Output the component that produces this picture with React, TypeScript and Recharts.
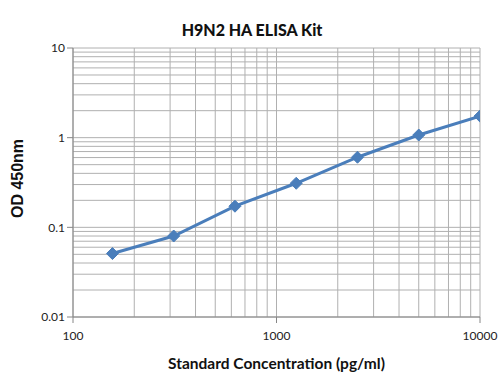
import { CartesianGrid, LineChart, Line, ReferenceLine, XAxis, YAxis, Label } from "recharts"

const concentration = [156.25, 312.5, 625, 1250, 2500, 5000, 10000]
const od450 = [0.051, 0.08, 0.172, 0.31, 0.605, 1.07, 1.74]

const xTicks = [100, 1000, 10000]
const yTicks = [0.01, 0.1, 1, 10]
const xMinor = [200, 300, 400, 500, 600, 700, 800, 900, 2000, 3000, 4000, 5000, 6000, 7000, 8000, 9000]
const yMinor = [0.02, 0.03, 0.04, 0.05, 0.06, 0.07, 0.08, 0.09, 0.2, 0.3, 0.4, 0.5, 0.6, 0.7, 0.8, 0.9, 2, 3, 4, 5, 6, 7, 8, 9]

const data = concentration.map((c, i) => ({ conc: c, od: od450[i] }))

const gridColor = "#b0b0b0"
const lineColor = "#4a7ebb"

const Diamond = (props: any) => {
  const { cx, cy } = props
  if (cx == null || cy == null) return null
  const r = 6
  return (
    <polygon
      points={`${cx},${cy - r} ${cx + r},${cy} ${cx},${cy + r} ${cx - r},${cy}`}
      fill={lineColor}
      stroke={lineColor}
      strokeWidth={1}
    />
  )
}

export default function App() {
  return (
    <div style={{ position: "absolute", left: 0, top: 0, width: 500, height: 373, background: "#fff" }}>
      <LineChart width={500} height={373} data={data} margin={{ top: 48, right: 20, bottom: 0, left: 0 }}>
        <text
          x={252}
          y={36}
          textAnchor="middle"
          style={{ fontFamily: "Lato, sans-serif", fontWeight: 900, fontSize: 16, fill: "#111" }}
        >
          H9N2 HA ELISA Kit
        </text>
        <CartesianGrid stroke={gridColor} strokeWidth={1} />
        {xMinor.map((v) => (
          <ReferenceLine key={"x" + v} x={v} stroke={gridColor} strokeWidth={1} />
        ))}
        {yMinor.map((v) => (
          <ReferenceLine key={"y" + v} y={v} stroke={gridColor} strokeWidth={1} />
        ))}
        <XAxis
          dataKey="conc"
          type="number"
          scale="log"
          domain={[100, 10000]}
          ticks={xTicks}
          allowDataOverflow
          height={56}
          stroke="#868686"
          tickSize={6}
          tick={{ fill: "#222", fontSize: 12, fontFamily: "Lato, sans-serif" }}
          tickMargin={8}
        >
          <Label
            value="Standard Concentration (pg/ml)"
            position="insideBottom"
            offset={4}
            style={{ fontFamily: "Lato, sans-serif", fontWeight: 700, fontSize: 15.5, fill: "#111" }}
          />
        </XAxis>
        <YAxis
          type="number"
          scale="log"
          domain={[0.01, 10]}
          ticks={yTicks}
          allowDataOverflow
          width={73}
          stroke="#868686"
          tickSize={6}
          tickFormatter={(v: number) => String(v)}
          tick={{ fill: "#222", fontSize: 12, fontFamily: "Lato, sans-serif" }}
        >
          <Label
            value="OD 450nm"
            angle={-90}
            position="insideLeft"
            offset={17}
            dy={-4}
            style={{
              textAnchor: "middle",
              fontFamily: "'Liberation Sans', Arial, sans-serif",
              fontWeight: 700,
              fontSize: 16,
              fill: "#111",
            }}
          />
        </YAxis>
        <Line
          dataKey="od"
          stroke={lineColor}
          strokeWidth={3}
          dot={<Diamond />}
          activeDot={false}
          isAnimationActive={false}
        />
      </LineChart>
    </div>
  )
}
